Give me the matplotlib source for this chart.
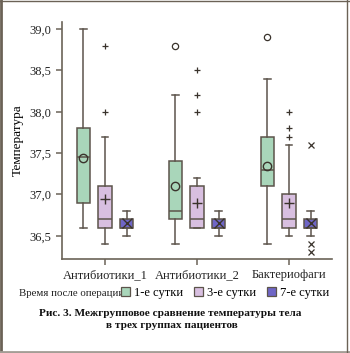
import matplotlib
matplotlib.use('Agg')
import matplotlib.pyplot as plt
from matplotlib.patches import Patch
from matplotlib.lines import Line2D
from matplotlib.ticker import FuncFormatter, MultipleLocator

# Данные
groups = ['Антибиотики_1', 'Антибиотики_2', 'Бактериофаги']
series = ['1-е сутки', '3-е сутки', '7-е сутки']

day1_whislo = [36.6, 36.4, 36.4]
day1_q1 = [36.9, 36.7, 37.1]
day1_med = [37.45, 36.8, 37.3]
day1_q3 = [37.8, 37.4, 37.7]
day1_whishi = [39.0, 38.2, 38.4]
day1_mean = [37.44, 37.1, 37.35]
day1_fliers = [[], [38.8], [38.9]]

day3_whislo = [36.4, 36.6, 36.5]
day3_q1 = [36.6, 36.6, 36.6]
day3_med = [36.7, 36.7, 36.7]
day3_q3 = [37.1, 37.1, 37.0]
day3_whishi = [37.7, 37.2, 37.6]
day3_mean = [36.95, 36.9, 36.9]
day3_fliers = [[38.0, 38.8], [38.0, 38.2, 38.5], [37.7, 37.8, 38.0]]

day7_whislo = [36.5, 36.5, 36.5]
day7_q1 = [36.6, 36.6, 36.6]
day7_med = [36.6, 36.6, 36.6]
day7_q3 = [36.7, 36.7, 36.7]
day7_whishi = [36.8, 36.8, 36.8]
day7_mean = [36.65, 36.65, 36.65]
day7_fliers = [[], [], [36.3, 36.4, 37.6]]

colors = ['#a9d6ba', '#d8bfe0', '#6f66c6']
markers = ['o', '+', 'x']
edge = '#5c544b'

plt.rcParams['font.family'] = ['Liberation Serif', 'DejaVu Serif']
plt.rcParams['font.size'] = 9

fig = plt.figure(figsize=(3.5, 3.53), dpi=100)
ax = fig.add_axes([62 / 350, 1 - 259 / 353, 270 / 350, 237 / 353])

all_days = [
    (day1_whislo, day1_q1, day1_med, day1_q3, day1_whishi, day1_mean, day1_fliers),
    (day3_whislo, day3_q1, day3_med, day3_q3, day3_whishi, day3_mean, day3_fliers),
    (day7_whislo, day7_q1, day7_med, day7_q3, day7_whishi, day7_mean, day7_fliers),
]
offsets = [-0.234, 0.0, 0.234]

for k, (wlo, q1, med, q3, whi, mean, fl) in enumerate(all_days):
    stats = []
    for i in range(len(groups)):
        stats.append(dict(whislo=wlo[i], q1=q1[i], med=med[i], q3=q3[i],
                          whishi=whi[i], mean=mean[i], fliers=fl[i]))
    pos = [i + offsets[k] for i in range(len(groups))]
    mk = markers[k]
    msize = 6 if mk == 'o' else 7
    ax.bxp(stats, positions=pos, widths=0.142, capwidths=0.075,
           patch_artist=True, showmeans=True, manage_ticks=False,
           boxprops=dict(facecolor=colors[k], edgecolor=edge, linewidth=1.1),
           whiskerprops=dict(color=edge, linewidth=1.1),
           capprops=dict(color=edge, linewidth=1.1),
           medianprops=dict(color=edge, linewidth=1.1),
           meanprops=dict(marker=mk, markersize=msize, markerfacecolor='none',
                          markeredgecolor='#3a332c', markeredgewidth=1.0),
           flierprops=dict(marker=mk, markersize=4.5, markerfacecolor='none',
                           markeredgecolor='#3a332c', markeredgewidth=0.9))

ax.set_xlim(-0.467, 2.467)
ax.set_ylim(36.22, 39.085)
ax.set_xticks(range(len(groups)))
ax.set_xticklabels(groups)
ax.yaxis.set_major_locator(MultipleLocator(0.5))
ax.yaxis.set_major_formatter(FuncFormatter(lambda v, p: f'{v:.1f}'.replace('.', ',')))
ax.set_ylabel('Температура', fontsize=9.5, labelpad=4)

for s in ['top', 'right']:
    ax.spines[s].set_visible(False)
for s in ['left', 'bottom']:
    ax.spines[s].set_color('#6b6358')
    ax.spines[s].set_linewidth(1.2)
ax.tick_params(colors='#6b6358', labelcolor='#222222', length=4, width=1.1)

# Легенда
fig.text(19 / 350, 1 - 293 / 353, 'Время после операции', va='center', ha='left',
         color='#222222', fontsize=7.8)
handles = [Patch(facecolor=c, edgecolor=edge, linewidth=0.9) for c in colors]
fig.legend(handles, series, loc='center left', bbox_to_anchor=(121 / 350, 1 - 293 / 353),
           ncol=3, frameon=False, handlelength=0.75, handleheight=0.75,
           handletextpad=0.3, columnspacing=0.85, borderpad=0, borderaxespad=0)

# Подпись
fig.text(0.487, 1 - 314 / 353, 'Рис. 3. Межгрупповое сравнение температуры тела',
         ha='center', va='center', weight='bold', color='#111111', fontsize=8.1)
fig.text(0.49, 1 - 325 / 353, 'в трех группах пациентов',
         ha='center', va='center', weight='bold', color='#111111', fontsize=8.1)

# Рамка
fig.add_artist(Line2D([0.003, 0.003], [0, 1], transform=fig.transFigure, color='#6b6256', lw=2))
fig.add_artist(Line2D([0, 1], [0.003, 0.003], transform=fig.transFigure, color='#a39d95', lw=2))
fig.add_artist(Line2D([0, 1], [0.998, 0.998], transform=fig.transFigure, color='#6b6256', lw=1))
fig.add_artist(Line2D([0.992, 0.992], [0, 1], transform=fig.transFigure, color='#6b6256', lw=1))

fig.savefig('out.png', dpi=100)
